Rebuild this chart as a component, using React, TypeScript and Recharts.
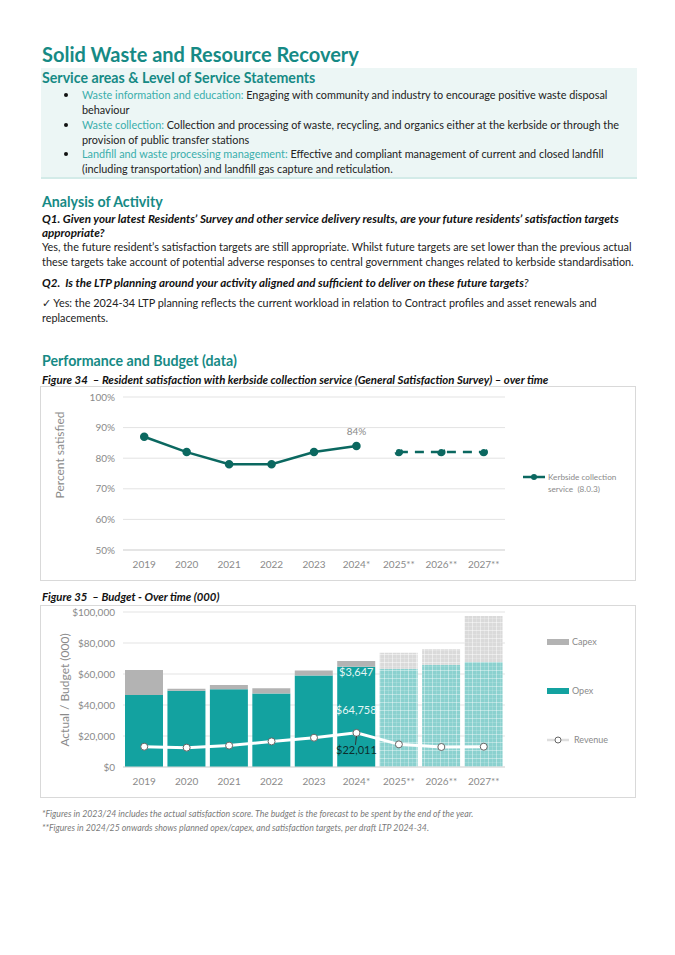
import React from 'react'
import {
  Bar, CartesianGrid, Cell, ComposedChart, LabelList, Legend, Line, XAxis, YAxis,
} from 'recharts'

// categories
const years = ['2019', '2020', '2021', '2022', '2023', '2024*', '2025**', '2026**', '2027**']
const planned = [false, false, false, false, false, false, true, true, true]

// Figure 34 - percent satisfied
const satisfactionActual = [87, 82, 78, 78, 82, 84, null, null, null]
const satisfactionTarget = [null, null, null, null, null, null, 82, 82, 82]
const satisfactionTicks = [50, 60, 70, 80, 90, 100]

// Figure 35 - budget ($000)
const opex = [46500, 49200, 50100, 47500, 59100, 64758, 63400, 66000, 67700]
const capex = [16100, 1300, 2800, 3300, 3100, 3647, 10300, 9900, 29700]
const revenue = [13100, 12500, 13800, 16500, 18900, 22011, 14600, 12900, 13100]
const budgetTicks = [0, 20000, 40000, 60000, 80000, 100000]

const satData = years.map((y, i) => ({ year: y, actual: satisfactionActual[i], target: satisfactionTarget[i] }))
const budgetData = years.map((y, i) => ({ year: y, opex: opex[i], capex: capex[i], revenue: revenue[i] }))

const FONT = 'Lato, "Noto Sans", sans-serif'
const TEAL = '#168a85'
const LIGHT_TEAL = '#3aaeac'
const DARK_LINE = '#0b6860'
const OPEX = '#13a2a0'
const CAPEX = '#b3b3b3'
const AXIS_TEXT = '#8a8a8a'

const money = (v: number) => `$${v.toLocaleString('en-US')}`

const txt = (top: number, left: number, style: React.CSSProperties, children: React.ReactNode) => (
  <div style={{ position: 'absolute', top, left, whiteSpace: 'nowrap', ...style }}>{children}</div>
)

const body: React.CSSProperties = { fontSize: 10.85, color: '#222', lineHeight: '14px' }
const qStyle: React.CSSProperties = { fontSize: 11.65, fontWeight: 700, fontStyle: 'italic', color: '#111', lineHeight: '14px' }
const heading: React.CSSProperties = { fontSize: 14.2, fontWeight: 700, color: TEAL, lineHeight: '18px' }
const tickStyle = { fontSize: 10, fill: AXIS_TEXT, fontFamily: FONT }

const zeroBox = { left: 0, top: 0, width: 0, height: 0, overflow: 'visible' as const }

// rotated axis title at a given spot in the chart
const axisTitle = (value: string, x: number, y: number) => () => (
  <text transform={`translate(${x}, ${y}) rotate(-90)`} textAnchor="middle" dominantBaseline="middle"
    fontSize={12} fill={AXIS_TEXT} fontFamily={FONT}>{value}</text>
)

const SatLegend = () => (
  <div style={{ position: 'absolute', left: 483, top: 82, fontFamily: FONT, fontSize: 8.2, color: AXIS_TEXT, lineHeight: '12px' }}>
    <svg width={24} height={8} style={{ position: 'absolute', left: 0, top: 4 }}>
      <line x1={0} y1={4} x2={22} y2={4} stroke={DARK_LINE} strokeWidth={2.5} />
      <circle cx={11} cy={4} r={3} fill={DARK_LINE} />
    </svg>
    <div style={{ position: 'absolute', left: 25, top: 2, whiteSpace: 'nowrap' }}>Kerbside collection<br />service&nbsp;&nbsp;(8.0.3)</div>
  </div>
)

const BudgetLegend = () => (
  <div style={{ position: 'absolute', left: 507, top: 0, fontFamily: FONT, fontSize: 9, color: AXIS_TEXT, lineHeight: '12px' }}>
    <div style={{ position: 'absolute', top: 33, left: 0, width: 22, height: 6, background: CAPEX }} />
    <div style={{ position: 'absolute', top: 30, left: 25, whiteSpace: 'nowrap' }}>Capex</div>
    <div style={{ position: 'absolute', top: 82, left: 0, width: 22, height: 6, background: OPEX }} />
    <div style={{ position: 'absolute', top: 79, left: 25, whiteSpace: 'nowrap' }}>Opex</div>
    <svg width={24} height={10} style={{ position: 'absolute', left: 0, top: 129 }}>
      <line x1={0} y1={5} x2={22} y2={5} stroke="#dedede" strokeWidth={2.5} />
      <circle cx={11} cy={5} r={3} fill="#fff" stroke="#666" strokeWidth={1} />
    </svg>
    <div style={{ position: 'absolute', top: 128, left: 27, whiteSpace: 'nowrap' }}>Revenue</div>
  </div>
)

const SatChart = () => (
  <ComposedChart width={595} height={193} data={satData} margin={{ top: 10, right: 130, bottom: 0, left: 0 }}>
    <CartesianGrid vertical={false} stroke="#e3e3e3" />
    <XAxis dataKey="year" scale="band" height={30} tickLine={false} tickMargin={5} axisLine={{ stroke: '#d9d9d9' }} tick={tickStyle} />
    <YAxis width={83} domain={[50, 100]} ticks={satisfactionTicks} axisLine={false} tickLine={false}
      tickFormatter={(v: number) => `${v}%`} tick={tickStyle}
      label={{ content: axisTitle('Percent satisfied', 21, 68) }} />
    <Legend content={() => <SatLegend />} wrapperStyle={zeroBox} />
    <Line dataKey="actual" stroke={DARK_LINE} strokeWidth={2.5} isAnimationActive={false}
      dot={{ r: 3, fill: DARK_LINE, stroke: DARK_LINE }} connectNulls={false}>
      <LabelList dataKey="actual" content={(p: any) => p.index === 5
        ? <text x={p.x} y={p.y - 11} textAnchor="middle" fontSize={10} fill={AXIS_TEXT} fontFamily={FONT}>{p.value}%</text>
        : null} />
    </Line>
    <Line dataKey="target" stroke={DARK_LINE} strokeWidth={2.5} strokeDasharray="9 7" isAnimationActive={false}
      dot={{ r: 3, fill: DARK_LINE, stroke: DARK_LINE }} />
  </ComposedChart>
)

const BudgetChart = () => (
  <ComposedChart width={595} height={191} data={budgetData} barCategoryGap={2}
    margin={{ top: 6, right: 130, bottom: 0, left: 0 }}>
    <defs>
      <pattern id="futOpex" width={8} height={8} patternUnits="userSpaceOnUse">
        <rect width={8} height={8} fill="#8bd1cf" />
        <path d="M0 0.5H8M0.5 0V8" stroke="#ffffff" strokeOpacity={0.4} strokeWidth={1} />
        <path d="M0 4.5H8M4.5 0V8" stroke="#ffffff" strokeOpacity={0.15} strokeWidth={1} />
      </pattern>
      <pattern id="futCapex" width={8} height={8} patternUnits="userSpaceOnUse">
        <rect width={8} height={8} fill="#dadada" />
        <path d="M0 0.5H8M0.5 0V8" stroke="#ffffff" strokeOpacity={0.45} strokeWidth={1} />
        <path d="M0 4.5H8M4.5 0V8" stroke="#ffffff" strokeOpacity={0.18} strokeWidth={1} />
      </pattern>
    </defs>
    <CartesianGrid vertical={false} stroke="#e3e3e3" />
    <XAxis dataKey="year" height={30} tickLine={false} tickMargin={5} axisLine={{ stroke: '#d9d9d9' }} tick={tickStyle} />
    <YAxis width={83} domain={[0, 100000]} ticks={budgetTicks} axisLine={false} tickLine={false}
      tickFormatter={money} tick={tickStyle}
      label={{ content: axisTitle('Actual / Budget (000)', 26, 84) }} />
    <Legend content={() => <BudgetLegend />} wrapperStyle={zeroBox} />
    <Bar dataKey="opex" stackId="b" fill={OPEX} isAnimationActive={false}>
      {budgetData.map((d, i) => <Cell key={d.year} fill={planned[i] ? 'url(#futOpex)' : OPEX} />)}
      <LabelList dataKey="opex" content={(p: any) => p.index === 5
        ? <text x={p.x + p.width / 2} y={p.y + p.height / 2 - 6} textAnchor="middle" dominantBaseline="middle"
          fontSize={11} fill="#e4f6f5" fontFamily={FONT}>{money(p.value)}</text>
        : null} />
    </Bar>
    <Bar dataKey="capex" stackId="b" fill={CAPEX} isAnimationActive={false}>
      {budgetData.map((d, i) => <Cell key={d.year} fill={planned[i] ? 'url(#futCapex)' : CAPEX} />)}
      <LabelList dataKey="capex" content={(p: any) => p.index === 5
        ? <text x={p.x + p.width / 2} y={p.y + p.height + 7} textAnchor="middle" dominantBaseline="middle"
          fontSize={11} fill="#e4f6f5" fontFamily={FONT}>{money(p.value)}</text>
        : null} />
    </Bar>
    <Line dataKey="revenue" stroke="#ffffff" strokeWidth={3} isAnimationActive={false}
      dot={{ r: 3.5, fill: '#ffffff', stroke: '#666', strokeWidth: 1 }}>
      <LabelList dataKey="revenue" content={(p: any) => p.index === 5
        ? <g>
          <line x1={p.x} y1={p.y + 3} x2={p.x - 1} y2={p.y + 12} stroke="#333" strokeWidth={1} />
          <text x={p.x} y={p.y + 18} textAnchor="middle" dominantBaseline="middle" fontSize={11}
            fill="#0d2e2d" fontFamily={FONT}>{money(p.value)}</text>
        </g>
        : null} />
    </Line>
  </ComposedChart>
)

const Bullet = ({ top, label, text, cont }: { top: number, label: string, text: string, cont?: string }) => (
  <>
    <div style={{ position: 'absolute', top: top + 5, left: 64, width: 4, height: 4, borderRadius: 2, background: '#111' }} />
    {txt(top, 82, body, <><span style={{ color: LIGHT_TEAL }}>{label}</span>{text}</>)}
    {cont && txt(top + 14.5, 82, body, cont)}
  </>
)

export default function App() {
  return (
    <div style={{ position: 'absolute', top: 0, left: 0, width: 675, height: 955, background: '#fff', fontFamily: FONT, overflow: 'hidden' }}>
      {txt(41, 42, { fontSize: 20, fontWeight: 700, color: TEAL, lineHeight: '26px' }, 'Solid Waste and Resource Recovery')}

      <div style={{ position: 'absolute', top: 68, left: 41, width: 596, height: 109, background: '#ecf6f5', borderBottom: '2px solid #d3ebe8' }} />
      {txt(69, 42, heading, 'Service areas & Level of Service Statements')}
      <Bullet top={88} label="Waste information and education: " text="Engaging with community and industry to encourage positive waste disposal" cont="behaviour" />
      <Bullet top={118} label="Waste collection: " text="Collection and processing of waste, recycling, and organics either at the kerbside or through the" cont="provision of public transfer stations" />
      <Bullet top={147} label="Landfill and waste processing management: " text="Effective and compliant management of current and closed landfill" cont="(including transportation) and landfill gas capture and reticulation." />

      {txt(193, 42, heading, 'Analysis of Activity')}
      {txt(212, 42, qStyle, 'Q1. Given your latest Residents\u2019 Survey and other service delivery results, are your future residents\u2019 satisfaction targets')}
      {txt(226, 42, qStyle, 'appropriate?')}
      {txt(240, 42, body, 'Yes, the future resident\u2019s satisfaction targets are still appropriate. Whilst future targets are set lower than the previous actual')}
      {txt(255, 42, body, 'these targets take account of potential adverse responses to central government changes related to kerbside standardisation.')}
      {txt(276, 42, { ...qStyle, fontSize: 11.55 }, <>Q2.&nbsp; Is the LTP planning around your activity aligned and sufficient to deliver on these future targets<span style={{ fontWeight: 400 }}>?</span></>)}
      {txt(296, 42, body, '\u2713 Yes: the 2024-34 LTP planning reflects the current workload in relation to Contract profiles and asset renewals and')}
      {txt(311, 42, body, 'replacements.')}

      {txt(352, 42, heading, 'Performance and Budget (data)')}
      {txt(373, 42, { ...qStyle, fontSize: 11.4 }, 'Figure 34\u00a0 \u2013 Resident satisfaction with kerbside collection service (General Satisfaction Survey) \u2013 over time')}
      <div style={{ position: 'absolute', top: 386, left: 40, width: 594, height: 193, border: '1px solid #d9d9d9' }} />
      <div style={{ position: 'absolute', top: 387, left: 40 }}><SatChart /></div>

      {txt(590, 42, { ...qStyle, fontSize: 11.3 }, 'Figure 35\u00a0 \u2013 Budget - Over time (000)')}
      <div style={{ position: 'absolute', top: 605, left: 40, width: 594, height: 191, border: '1px solid #d9d9d9' }} />
      <div style={{ position: 'absolute', top: 606, left: 40 }}><BudgetChart /></div>

      {txt(808, 42, { fontSize: 8.75, fontStyle: 'italic', color: '#7a7a7a', lineHeight: '12px' }, '*Figures in 2023/24 includes the actual satisfaction score. The budget is the forecast to be spent by the end of the year.')}
      {txt(822, 42, { fontSize: 8.75, fontStyle: 'italic', color: '#7a7a7a', lineHeight: '12px' }, '**Figures in 2024/25 onwards shows planned opex/capex, and satisfaction targets, per draft LTP 2024-34.')}
    </div>
  )
}
